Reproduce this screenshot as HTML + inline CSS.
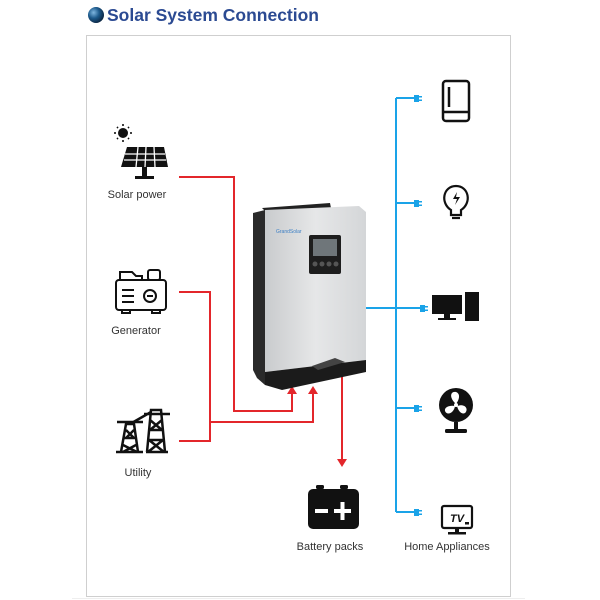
<!DOCTYPE html>
<html><head><meta charset="utf-8"><style>
html,body{margin:0;padding:0;background:#fff;width:600px;height:600px;overflow:hidden}
svg{display:block}
text{font-family:"Liberation Sans",sans-serif}
</style></head><body>
<svg width="600" height="600" viewBox="0 0 600 600" xmlns="http://www.w3.org/2000/svg">
<defs>
<radialGradient id="g" cx="35%" cy="35%" r="70%"><stop offset="0" stop-color="#7fb6e0"/><stop offset="0.5" stop-color="#1d5a8c"/><stop offset="1" stop-color="#0b2440"/></radialGradient>
<linearGradient id="body" x1="0" x2="1"><stop offset="0" stop-color="#c9cbcd"/><stop offset="0.5" stop-color="#e6e7e8"/><stop offset="1" stop-color="#d4d6d8"/></linearGradient>
</defs>
<circle cx="96" cy="15" r="8" fill="url(#g)"/>
<text x="107" y="21" font-size="17.5" font-weight="bold" fill="#2b4a92">Solar System Connection</text>
<rect x="86.5" y="35.5" width="424" height="561" fill="none" stroke="#cfcfcf" stroke-width="1"/>
<line x1="72" y1="598.5" x2="525" y2="598.5" stroke="#eee"/>

<!-- red lines -->
<g stroke="#e3262b" stroke-width="2" fill="none">
<polyline points="179,177 234,177 234,411 292,411 292,392"/>
<polyline points="179,292 210,292 210,441 179,441"/>
<polyline points="210,422 313,422 313,392"/>
<line x1="342" y1="368" x2="342" y2="460"/>
</g>
<g fill="#e3262b">
<polygon points="287,394 292,386 297,394"/>
<polygon points="308,394 313,386 318,394"/>
<polygon points="337,459 342,467 347,459"/>
</g>

<!-- blue lines -->
<g stroke="#1aa3e8" stroke-width="2" fill="none">
<line x1="366" y1="308" x2="396" y2="308"/>
<line x1="396" y1="98" x2="396" y2="512"/>
<line x1="396" y1="98" x2="415" y2="98"/>
<line x1="396" y1="203" x2="415" y2="203"/>
<line x1="396" y1="308" x2="420" y2="308"/>
<line x1="396" y1="408" x2="415" y2="408"/>
<line x1="396" y1="512" x2="415" y2="512"/>
</g>
<g fill="#1aa3e8">
<rect x="414" y="95" width="5" height="7"/><rect x="419" y="96" width="3" height="1.5"/><rect x="419" y="99.5" width="3" height="1.5"/>
<rect x="414" y="200" width="5" height="7"/><rect x="419" y="201" width="3" height="1.5"/><rect x="419" y="204.5" width="3" height="1.5"/>
<rect x="420" y="305" width="5" height="7"/><rect x="425" y="306" width="3" height="1.5"/><rect x="425" y="309.5" width="3" height="1.5"/>
<rect x="414" y="405" width="5" height="7"/><rect x="419" y="406" width="3" height="1.5"/><rect x="419" y="409.5" width="3" height="1.5"/>
<rect x="414" y="509" width="5" height="7"/><rect x="419" y="510" width="3" height="1.5"/><rect x="419" y="513.5" width="3" height="1.5"/>
</g>

<!-- inverter -->
<polygon points="262,208 330,203 331,208 266,212" fill="#222"/>
<polygon points="253,213 265,210 265,385 257,378 253,370" fill="#2a2a2a"/>
<polygon points="265,210 359,206 366,212 366,360 265,372" fill="url(#body)"/>
<polygon points="265,372 366,360 366,372 282,390 265,385" fill="#1b1b1b"/>
<polygon points="312,366 335,358 345,362 318,370" fill="#444"/>
<rect x="309" y="235" width="32" height="39" rx="2" fill="#1e1e1e"/>
<rect x="313" y="239" width="24" height="17" fill="#6f767a"/>
<g fill="#555"><circle cx="315" cy="264" r="2.5"/><circle cx="322" cy="264" r="2.5"/><circle cx="329" cy="264" r="2.5"/><circle cx="336" cy="264" r="2.5"/></g>
<text x="276" y="233" font-size="5" fill="#3c7fc4">GrandSolar</text>

<!-- solar icon -->
<g fill="#111">
<circle cx="123" cy="133" r="5"/>
<g stroke="#111" stroke-width="1.6"><line x1="123" y1="124" x2="123" y2="126"/><line x1="123" y1="140" x2="123" y2="142"/><line x1="114" y1="133" x2="116" y2="133"/><line x1="130" y1="133" x2="132" y2="133"/><line x1="117" y1="127" x2="118" y2="128"/><line x1="128" y1="138" x2="129" y2="139"/><line x1="129" y1="127" x2="128" y2="128"/><line x1="117" y1="139" x2="118" y2="138"/></g>
<polygon points="127,147 164,147 168,167 121,167"/>
<rect x="142" y="167" width="5" height="10"/><rect x="135" y="176" width="19" height="3"/>
</g>
<g stroke="#fff" stroke-width="1.3"><line x1="125" y1="154" x2="165" y2="154"/><line x1="124" y1="160" x2="166" y2="160"/><line x1="138" y1="147" x2="136" y2="167"/><line x1="146" y1="147" x2="145" y2="167"/><line x1="154" y1="147" x2="155" y2="167"/></g>
<text x="137" y="198" font-size="11" text-anchor="middle" fill="#333">Solar power</text>

<!-- generator -->
<g fill="none" stroke="#111" stroke-width="2">
<rect x="116" y="280" width="50" height="30" rx="3"/>
<path d="M120,280 v-8 h12 l4,4 h6 v4"/>
<rect x="148" y="270" width="12" height="10" rx="2"/>
<circle cx="150" cy="296" r="6"/>
<line x1="122" y1="290" x2="134" y2="290"/><line x1="122" y1="296" x2="134" y2="296"/><line x1="122" y1="302" x2="134" y2="302"/>
<line x1="147" y1="296" x2="153" y2="296"/>
<path d="M122,310 v3 h8 v-3 M152,310 v3 h8 v-3"/>
</g>
<text x="136" y="334" font-size="11" text-anchor="middle" fill="#333">Generator</text>

<!-- utility -->
<g fill="none" stroke="#111" stroke-width="2.5">
<path d="M121,452 L126,424 L134,424 L138,452 M124,438 L135,438 M123,445 L137,452 M136,445 L123,452 M126,430 L134,438 M134,430 L126,438"/>
<path d="M117,422 H143 M116,452 H143"/>
<path d="M147,452 L151,410 L161,410 L165,452 M150,430 L162,430 M148,440 L164,440 M150,420 L162,430 M162,420 L150,430 M149,440 L164,452 M163,440 L148,452 M146,452 H168"/>
<path d="M144,414 H170 M130,424 L151,412"/>
</g>
<text x="138" y="476" font-size="11" text-anchor="middle" fill="#333">Utility</text>

<!-- battery -->
<rect x="316" y="485" width="8" height="4" rx="1.5" fill="#111"/><rect x="340" y="485" width="8" height="4" rx="1.5" fill="#111"/>
<rect x="308" y="489" width="51" height="40" rx="5" fill="#111"/>
<rect x="315" y="509" width="13" height="4" fill="#fff"/>
<rect x="334" y="509" width="17" height="4" fill="#fff"/><rect x="340.5" y="502" width="4" height="18" fill="#fff"/>
<text x="330" y="550" font-size="11" text-anchor="middle" fill="#333">Battery packs</text>

<!-- fridge -->
<g fill="none" stroke="#111" stroke-width="2.5"><rect x="443" y="81" width="26" height="40" rx="3"/><line x1="443" y1="112" x2="469" y2="112"/><line x1="449" y1="87" x2="449" y2="107"/></g>
<!-- bulb -->
<g fill="none" stroke="#111" stroke-width="2.2"><path d="M451,210 C440,203 443,186 456,186 C469,186 472,203 461,210 V215 H451 Z"/><line x1="452" y1="218" x2="460" y2="218"/></g>
<path d="M457,192 l-4,7 h4 l-2,6 l5,-8 h-4 z" fill="#111"/>
<!-- computer -->
<rect x="432" y="295" width="30" height="19" fill="#111"/><rect x="444" y="314" width="6" height="4" fill="#111"/><rect x="438" y="318" width="18" height="2" fill="#111"/>
<rect x="465" y="292" width="14" height="29" fill="#111"/>
<!-- fan -->
<circle cx="456" cy="405" r="17" fill="#111"/>
<g fill="#fff"><path d="M456,404 C449,398 450,391 456,392 C461,394 459,400 456,404Z"/><path d="M457,406 C465,403 469,409 465,413 C461,415 458,410 457,406Z"/><path d="M455,406 C454,413 447,416 445,411 C444,407 450,405 455,406Z"/><circle cx="456" cy="405" r="2"/></g>
<rect x="454" y="422" width="4" height="7" fill="#111"/><rect x="445" y="429" width="22" height="4" rx="1.5" fill="#111"/>
<!-- tv -->
<rect x="442" y="506" width="30" height="22" rx="2" fill="none" stroke="#111" stroke-width="2.2"/>
<text x="457" y="522" font-size="11" font-weight="bold" font-style="italic" text-anchor="middle" fill="#111">TV</text>
<rect x="465" y="522" width="4" height="2.5" fill="#111"/>
<rect x="455" y="528" width="4" height="4" fill="#111"/><rect x="448" y="532" width="18" height="2.5" fill="#111"/>
<text x="447" y="550" font-size="11" text-anchor="middle" fill="#333">Home Appliances</text>
</svg>
</body></html>
